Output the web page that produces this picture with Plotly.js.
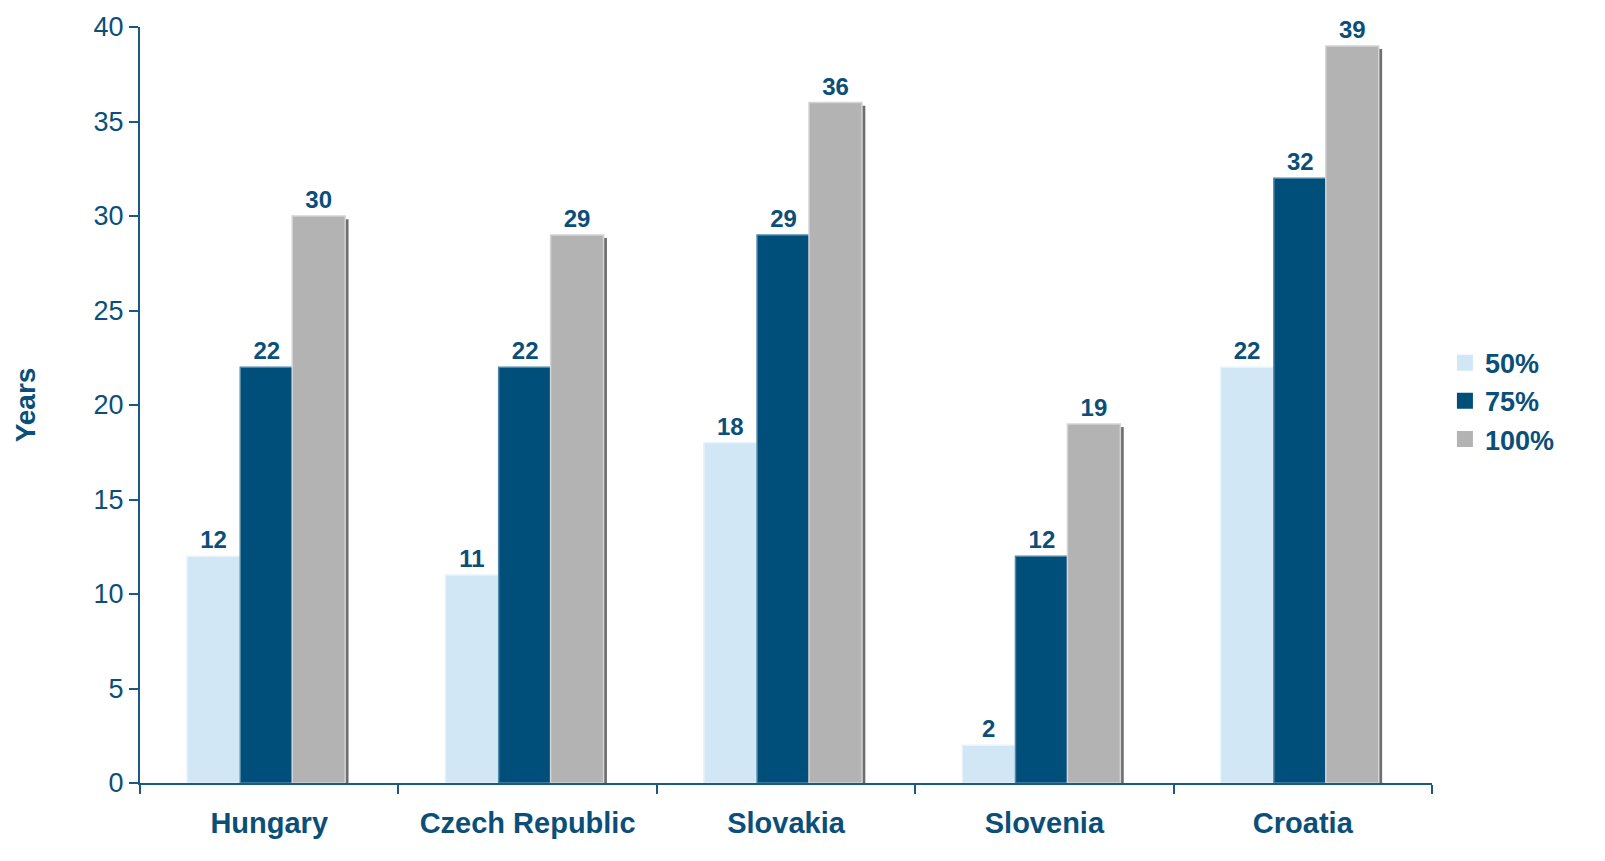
<!DOCTYPE html>
<html>
<head>
<meta charset="utf-8">
<script src="https://cdn.plot.ly/plotly-3.0.1.min.js"></script>
<style>html,body{margin:0;padding:0;background:#fff}#chart{width:1605px;height:861px}</style>
</head>
<body>
<div id="chart"></div>
<script>
var countries = ["Hungary", "Czech Republic", "Slovakia", "Slovenia", "Croatia"];
var seriesNames = ["50%", "75%", "100%"];
var v50 = [12, 11, 18, 2, 22];
var v75 = [22, 22, 29, 12, 32];
var v100 = [30, 29, 36, 19, 39];

var values = [v50, v75, v100];
var colors = ["#D1E7F5", "#004E7A", "#B3B3B3"];
var shadowColors = ["#8C949A", "#00304D", "#6E6E6E"];
var edgeColors = ["#E8F3FA", "#4F87A8", "#D4D4D4"];
var txt = "#0B4F78";
var axc = "#1A5A80";
var fam = "Liberation Sans, Arial, sans-serif";
var barW = 0.205;
var offsets = [-0.318, -0.112, 0.089];
var shOff = 0.013;

var traces = [];
for (var i = 0; i < 3; i++) {
  traces.push({
    type: "bar", x: countries, y: values[i], width: barW, offset: offsets[i] + shOff,
    marker: {color: shadowColors[i]}, showlegend: false, hoverinfo: "skip", yaxis: "y"
  });
}
for (var i = 0; i < 3; i++) {
  traces.push({
    type: "bar", name: seriesNames[i], x: countries, y: values[i], width: barW, offset: offsets[i],
    marker: {color: colors[i], line: {color: edgeColors[i], width: 1.5}}, yaxis: "y2",
    showlegend: false,
    text: values[i].map(String), textposition: "outside", cliponaxis: false,
    textfont: {family: fam, size: 24, weight: "bold", color: txt}
  });
}
// legend entries (no data drawn), larger square swatches like the reference
for (var i = 0; i < 3; i++) {
  traces.push({
    type: "scatter", mode: "markers", name: seriesNames[i], x: [null], y: [null], yaxis: "y2",
    marker: {symbol: "square", size: 19, color: colors[i]}, showlegend: true, hoverinfo: "skip"
  });
}

var layout = {
  width: 1605, height: 861,
  margin: {l: 140, r: 173, t: 27, b: 78},
  paper_bgcolor: "#fff", plot_bgcolor: "#fff",
  barmode: "overlay",
  font: {family: fam, color: txt},
  showlegend: true,
  legend: {x: 1.01, xanchor: "left", y: 0.505, yanchor: "middle",
    font: {size: 27, weight: "bold", color: txt}, traceorder: "normal", itemwidth: 30},
  xaxis: {
    type: "category", showline: true, linecolor: axc, linewidth: 2,
    ticks: "outside", tickson: "boundaries", ticklen: 9, tickwidth: 2, tickcolor: axc,
    tickfont: {size: 29, weight: "bold", color: txt}, ticklabelstandoff: 13,
    showgrid: false, zeroline: false, range: [-0.5, 4.5], fixedrange: true, automargin: false
  },
  yaxis: {
    range: [0.17, 40.17], visible: false, showgrid: false, zeroline: false
  },
  yaxis2: {
    overlaying: "y", side: "left",
    range: [0, 40], dtick: 5, tick0: 0, showline: true, linecolor: axc, linewidth: 2,
    ticks: "outside", ticklen: 9, tickwidth: 2, tickcolor: axc,
    tickfont: {size: 27, color: txt}, showgrid: false, zeroline: false, automargin: false,
    title: {text: "Years", font: {size: 28, weight: "bold", color: txt}, standoff: 50}
  }
};

Plotly.newPlot("chart", traces, layout, {displayModeBar: false, staticPlot: true});
</script>
</body>
</html>
